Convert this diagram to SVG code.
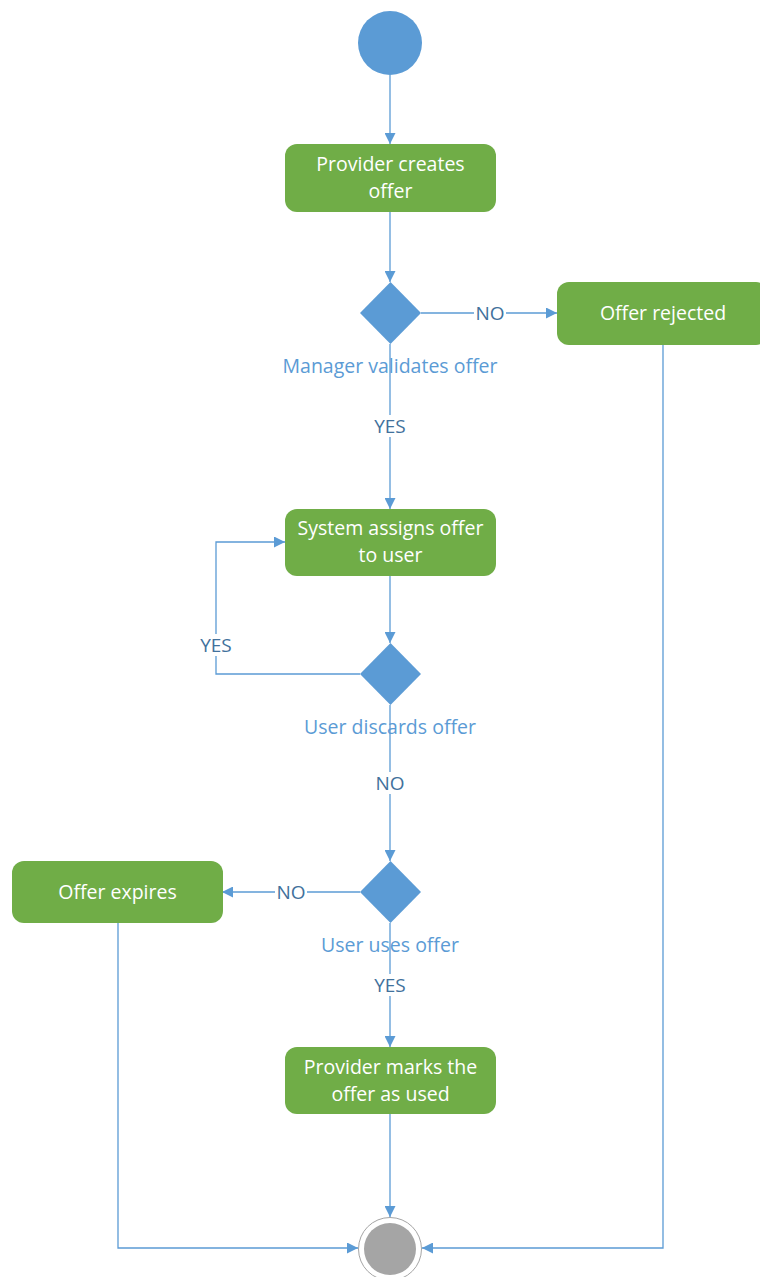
<svg xmlns="http://www.w3.org/2000/svg" width="760" height="1277" viewBox="0 0 760 1277">
<style>
.box{fill:#70AD47;stroke:none}
.btxt{fill:#FFFFFF;font-family:"Open Sans","Liberation Sans",sans-serif;font-size:19.5px;text-anchor:middle}
.dia{fill:#5B9BD5}
.dlbl{fill:#5B9BD5;font-family:"Open Sans","Liberation Sans",sans-serif;font-size:19.5px;text-anchor:middle}
.elbl{fill:#41719C;font-family:"Open Sans","Liberation Sans",sans-serif;font-size:19px;text-anchor:middle}
.edge{fill:none;stroke:#5B9BD5;stroke-width:1.3}
.bg{fill:#FFFFFF;stroke:none}
</style>
<defs>
<marker id="arr" viewBox="0 0 10 10" refX="10" refY="5" markerWidth="11" markerHeight="11" markerUnits="userSpaceOnUse" orient="auto">
<path d="M0,0 L10,5 L0,10 Z" fill="#5B9BD5"/>
</marker>
</defs>
<rect width="760" height="1277" fill="#FFFFFF"/>
<g id="connectors">
<path class="edge" d="M390,75 L390,144" marker-end="url(#arr)"/>
<path class="edge" d="M390,212 L390,282" marker-end="url(#arr)"/>
<path class="edge" d="M421,313 L557,313" marker-end="url(#arr)"/>
<path class="edge" d="M390,344 L390,509" marker-end="url(#arr)"/>
<path class="edge" d="M390,576 L390,643" marker-end="url(#arr)"/>
<path class="edge" d="M360,674 L216,674 L216,542 L285,542" marker-end="url(#arr)"/>
<path class="edge" d="M390,705 L390,861" marker-end="url(#arr)"/>
<path class="edge" d="M360,892 L222,892" marker-end="url(#arr)"/>
<path class="edge" d="M390,923 L390,1047" marker-end="url(#arr)"/>
<path class="edge" d="M390,1114 L390,1217" marker-end="url(#arr)"/>
<path class="edge" d="M118,923 L118,1248 L358,1248" marker-end="url(#arr)"/>
<path class="edge" d="M663,345 L663,1248 L422,1248" marker-end="url(#arr)"/>
<rect class="bg" x="474" y="302" width="32" height="22"/>
<text class="elbl" x="490" y="320">NO</text>
<rect class="bg" x="372" y="415" width="36" height="22"/>
<text class="elbl" x="390" y="433">YES</text>
<rect class="bg" x="198" y="634" width="36" height="22"/>
<text class="elbl" x="216" y="652">YES</text>
<rect class="bg" x="374" y="772" width="32" height="22"/>
<text class="elbl" x="390" y="790">NO</text>
<rect class="bg" x="275" y="881" width="32" height="22"/>
<text class="elbl" x="291" y="899">NO</text>
<rect class="bg" x="372" y="974" width="36" height="22"/>
<text class="elbl" x="390" y="992">YES</text>
</g>
<g id="start">
<circle cx="390" cy="43" r="32" fill="#5B9BD5"/>
</g>
<g id="provider-creates">
<rect class="box" x="285" y="144" width="211" height="68" rx="12"/>
<text class="btxt" x="390.5" y="171">Provider creates</text>
<text class="btxt" x="390.5" y="198">offer</text>
</g>
<g id="manager-validates">
<path class="dia" d="M390.5,282 L421,313 L390.5,344 L360,313 Z"/>
<text class="dlbl" x="390" y="373">Manager validates offer</text>
</g>
<g id="offer-rejected">
<rect class="box" x="557" y="282" width="211" height="63" rx="12"/>
<text class="btxt" x="663" y="320">Offer rejected</text>
</g>
<g id="system-assigns">
<rect class="box" x="285" y="509" width="211" height="67" rx="12"/>
<text class="btxt" x="390.5" y="535">System assigns offer</text>
<text class="btxt" x="390.5" y="562">to user</text>
</g>
<g id="user-discards">
<path class="dia" d="M390.5,643 L421,674 L390.5,705 L360,674 Z"/>
<text class="dlbl" x="390" y="734">User discards offer</text>
</g>
<g id="user-uses">
<path class="dia" d="M390.5,861 L421,892 L390.5,923 L360,892 Z"/>
<text class="dlbl" x="390" y="952">User uses offer</text>
</g>
<g id="offer-expires">
<rect class="box" x="12" y="861" width="211" height="62" rx="12"/>
<text class="btxt" x="117.5" y="899">Offer expires</text>
</g>
<g id="provider-marks">
<rect class="box" x="285" y="1047" width="211" height="67" rx="12"/>
<text class="btxt" x="390.5" y="1074">Provider marks the</text>
<text class="btxt" x="390.5" y="1101">offer as used</text>
</g>
<g id="end">
<circle cx="390" cy="1249" r="31.5" fill="#FFFFFF" stroke="#A5A5A5" stroke-width="1"/>
<circle cx="390" cy="1249" r="26" fill="#A5A5A5"/>
</g>
</svg>
